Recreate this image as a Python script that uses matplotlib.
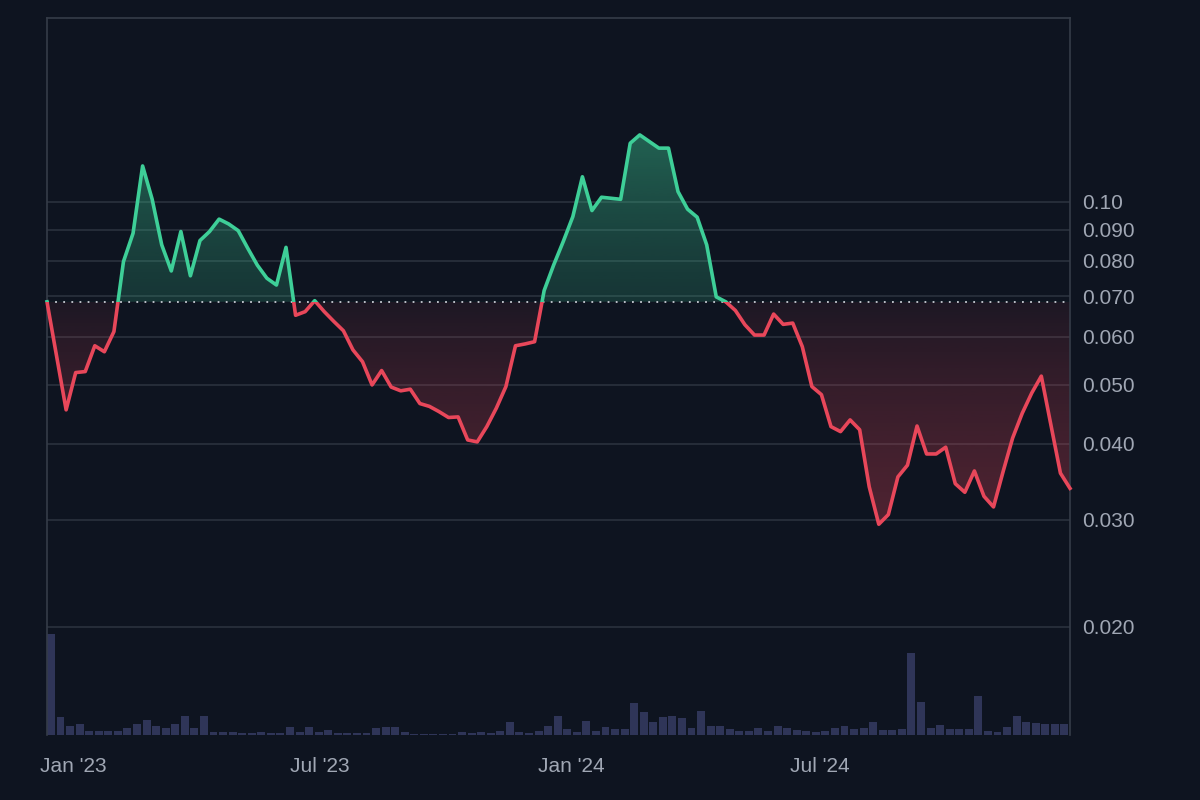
import numpy as np
import pandas as pd
import matplotlib
matplotlib.use('Agg')
import matplotlib.pyplot as plt
import matplotlib.dates as mdates
from matplotlib.patches import Rectangle
from matplotlib.colors import to_rgb

# weekly closes, starting 2022-12-13
start_date = '2022-12-13'
price = [0.0685, 0.0558, 0.0455, 0.0524, 0.0526, 0.0580, 0.0567, 0.0612, 0.0798, 0.0888,
         0.1146, 0.1010, 0.0850, 0.0770, 0.0894, 0.0756, 0.0864, 0.0894, 0.0937, 0.0920,
         0.0897, 0.0839, 0.0787, 0.0749, 0.0730, 0.0842, 0.0651, 0.0660, 0.0688, 0.0660,
         0.0636, 0.0614, 0.0571, 0.0546, 0.0500, 0.0528, 0.0496, 0.0489, 0.0492, 0.0466,
         0.0461, 0.0452, 0.0442, 0.0443, 0.0406, 0.0403, 0.0427, 0.0458, 0.0497, 0.0580,
         0.0584, 0.0589, 0.0715, 0.0788, 0.0861, 0.0946, 0.1100, 0.0968, 0.1018, 0.1014,
         0.1010, 0.1249, 0.1289, 0.1257, 0.1226, 0.1226, 0.1040, 0.0973, 0.0944, 0.0850,
         0.0698, 0.0685, 0.0663, 0.0628, 0.0604, 0.0604, 0.0654, 0.0629, 0.0632, 0.0578,
         0.0497, 0.0482, 0.0427, 0.0419, 0.0438, 0.0422, 0.0340, 0.0295, 0.0306, 0.0353,
         0.0369, 0.0428, 0.0385, 0.0385, 0.0395, 0.0344, 0.0333, 0.0361, 0.0328, 0.0315,
         0.0360, 0.0409, 0.0449, 0.0485, 0.0517, 0.0430, 0.0358, 0.0338]

volume = [102, 18, 9, 11, 4, 4, 4, 4, 7, 11, 15, 9, 7, 11, 19, 7, 19, 3, 3, 3,
          2, 2, 3, 2, 2, 8, 3, 8, 3, 5, 2, 2, 2, 2, 7, 8, 8, 3, 1, 1,
          1, 1, 1, 3, 2, 3, 2, 4, 13, 3, 2, 4, 9, 19, 6, 3, 14, 4, 8, 6,
          6, 32, 23, 13, 18, 19, 17, 7, 24, 9, 9, 6, 4, 4, 7, 4, 9, 7, 5, 4,
          3, 4, 7, 9, 6, 7, 13, 5, 5, 6, 83, 33, 7, 10, 6, 6, 6, 39, 4, 3,
          8, 19, 13, 12, 11, 11, 11, 4]

y_ticks = [0.02, 0.03, 0.04, 0.05, 0.06, 0.07, 0.08, 0.09, 0.10]
y_labels = ['0.020', '0.030', '0.040', '0.050', '0.060', '0.070', '0.080', '0.090', '0.10']
x_ticks = ['2023-01-01', '2023-07-01', '2024-01-01', '2024-07-01']
x_labels = ["Jan '23", "Jul '23", "Jan '24", "Jul '24"]

bg = '#0e1420'
up_col = '#3ecf98'
down_col = '#e8475a'
bar_col = '#2f3558'
grid_col = '#2a313d'
text_col = '#a0a7b4'

plt.rcParams['font.family'] = ['Liberation Sans', 'DejaVu Sans']

dates = pd.date_range(start_date, periods=len(price), freq='7D')
x = mdates.date2num(dates)
p = np.array(price)
base = p[0]

fig = plt.figure(figsize=(12, 8), dpi=100, facecolor=bg)
ax = fig.add_axes([47/1200, 1-735/800, 1023/1200, 717/800])

# volume bars on a twin axis, squeezed to the bottom
axv = ax.twinx()
axv.bar(x, volume, width=5.8, align='edge', color=bar_col, zorder=1)
axv.set_ylim(0, max(volume) * 717 / 101)
axv.set_yticks([])
for s in axv.spines.values():
    s.set_visible(False)
ax.set_zorder(axv.get_zorder() + 1)
ax.patch.set_visible(False)

ax.set_yscale('log')
ylo, yhi = 0.01328, 0.2007

# gradient fills clipped to area between line and baseline
fill = ax.fill_between(x, p, base, facecolor='none', edgecolor='none')
clip = fill.get_paths()[0]

def grad(col, a_lo, a_hi):
    arr = np.zeros((256, 1, 4))
    arr[:, 0, :3] = to_rgb(col)
    arr[:, 0, 3] = np.linspace(a_lo, a_hi, 256)
    return arr

im_up = ax.imshow(grad(up_col, 0.18, 0.42), extent=[x[0], x[-1], base, p.max()],
                  origin='lower', aspect='auto', interpolation='bilinear', zorder=2)
im_up.set_clip_path(clip, ax.transData)
im_dn = ax.imshow(grad(down_col, 0.30, 0.07), extent=[x[0], x[-1], p.min(), base],
                  origin='lower', aspect='auto', interpolation='bilinear', zorder=2)
im_dn.set_clip_path(clip, ax.transData)

# line, green above the first price and red below
l_up, = ax.plot(x, p, color=up_col, lw=2.6, zorder=4, solid_joinstyle='round')
l_up.set_clip_path(Rectangle((x[0] - 10, base), x[-1] - x[0] + 20, 1, transform=ax.transData))
l_dn, = ax.plot(x, p, color=down_col, lw=2.6, zorder=4, solid_joinstyle='round')
l_dn.set_clip_path(Rectangle((x[0] - 10, 0.001), x[-1] - x[0] + 20, base - 0.001, transform=ax.transData))

ax.axhline(base, color='#c8ccd4', lw=1.3, ls=(0, (1, 3.5)), zorder=3)

ax.set_xlim(x[0], x[-1])
ax.set_ylim(ylo, yhi)

ax.yaxis.tick_right()
ax.set_yticks(y_ticks)
ax.set_yticklabels(y_labels)
ax.yaxis.set_minor_locator(matplotlib.ticker.NullLocator())
ax.set_xticks(mdates.date2num(pd.to_datetime(x_ticks)))
ax.set_xticklabels(x_labels)
ax.tick_params(axis='y', length=0, pad=9, labelsize=15, labelcolor=text_col)
ax.tick_params(axis='x', length=0, pad=16, labelsize=15, labelcolor=text_col)
ax.grid(axis='y', color=grid_col, lw=1.2, zorder=0)
ax.grid(axis='x', visible=False)

for side in ['left', 'top', 'right']:
    ax.spines[side].set_color('#353c48')
    ax.spines[side].set_linewidth(1.2)
ax.spines['bottom'].set_visible(False)

fig.savefig('out.png', dpi=100, facecolor=bg)
